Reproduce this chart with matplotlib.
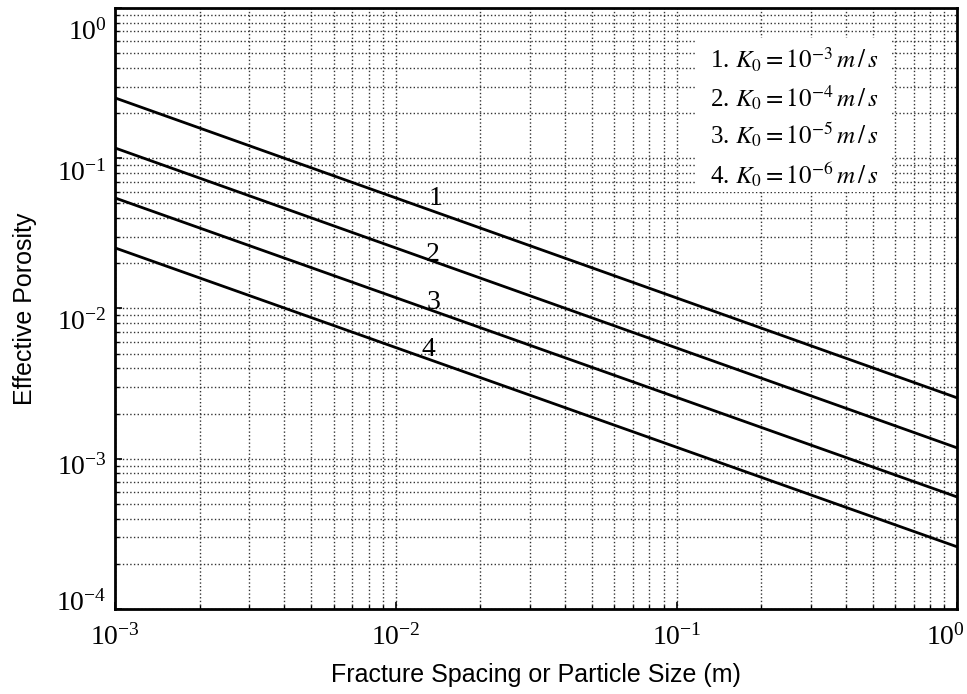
import matplotlib
matplotlib.use('Agg')
import matplotlib.pyplot as plt
import matplotlib.transforms as mtransforms
from matplotlib.patches import Rectangle
import numpy as np

# values (straight lines on log-log axes)
spacing = [1e-3, 1.0]
porosity_1 = [0.252, 2.54e-3]
porosity_2 = [0.117, 1.18e-3]
porosity_3 = [0.0544, 5.56e-4]
porosity_4 = [0.0253, 2.59e-4]
curves = [porosity_1, porosity_2, porosity_3, porosity_4]

curve_names = ['1', '2', '3', '4']
name_x = [0.0138, 0.0135, 0.0136, 0.0131]
name_y = [0.0543, 0.0227, 0.0109, 0.0053]

legend_lines = [r'1. $K_0 = 10^{-3}\,m\,/\,s$',
                r'2. $K_0 = 10^{-4}\,m\,/\,s$',
                r'3. $K_0 = 10^{-5}\,m\,/\,s$',
                r'4. $K_0 = 10^{-6}\,m\,/\,s$']
legend_y = [0.913, 0.850, 0.789, 0.722]

x_ticks = [1e-3, 1e-2, 1e-1, 1e0]
y_ticks = [1e-4, 1e-3, 1e-2, 1e-1, 1e0]
# the scanned tick labels sit a little off their ticks (pixels, downward)
y_label_shift = [-9, 6, 11, 12, 21]
x_label_shift = [0, 0, 0, -12]

plt.rcParams['mathtext.fontset'] = 'stix'
plt.rcParams['font.family'] = 'Liberation Serif'

fig = plt.figure(figsize=(9.67, 6.94), dpi=100)
ax = fig.add_axes([0.119, 0.1225, 0.871, 0.866])

for y in curves:
    ax.plot(spacing, y, color='black', linewidth=2, zorder=4)

ax.set_xscale('log')
ax.set_yscale('log')
ax.set_xticks(x_ticks)
ax.set_yticks(y_ticks)
ax.set_xlim(1e-3, 1)
ax.set_ylim(1e-4, 1)

ax.grid(True, which='both', linestyle=':', color='#333333', linewidth=1.0)
ax.tick_params(which='both', direction='in', top=False, right=False)
ax.tick_params(which='major', length=5, width=1.2, labelsize=20)
ax.tick_params(axis='x', which='major', pad=11)
ax.tick_params(axis='y', which='major', pad=6)
ax.tick_params(which='minor', length=3, width=1.0)
for s in ax.spines.values():
    s.set_linewidth(2)
    s.set_zorder(6)

fig.canvas.draw()
for tick, dy in zip(ax.yaxis.get_major_ticks(), y_label_shift):
    tick.label1.set_transform(tick.label1.get_transform() +
                              mtransforms.ScaledTranslation(0, -dy / 100, fig.dpi_scale_trans))
for tick, dx in zip(ax.xaxis.get_major_ticks(), x_label_shift):
    tick.label1.set_transform(tick.label1.get_transform() +
                              mtransforms.ScaledTranslation(dx / 100, 0, fig.dpi_scale_trans))

for name, xx, yy in zip(curve_names, name_x, name_y):
    ax.text(xx, yy, name, fontsize=20, ha='center', va='center', zorder=5)

# white box behind the legend text
ax.add_patch(Rectangle((0.691, 0.694), 0.232, 0.256, transform=ax.transAxes,
                       facecolor='white', edgecolor='none', zorder=3))
for txt, yy in zip(legend_lines, legend_y):
    ax.text(0.906, yy, txt, transform=ax.transAxes, ha='right', va='center',
            fontsize=18, zorder=5)

ax.set_xlabel('Fracture Spacing or Particle Size (m)', family='Liberation Sans',
              fontsize=18, labelpad=9)
ax.set_ylabel('Effective Porosity', family='Liberation Sans', fontsize=18,
              labelpad=14)

fig.savefig('out.png', dpi=100)
